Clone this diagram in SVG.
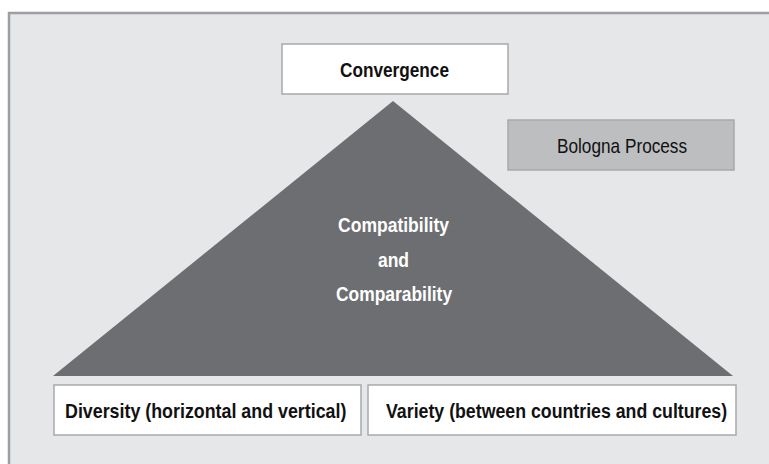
<svg xmlns="http://www.w3.org/2000/svg" width="769" height="464" viewBox="0 0 769 464">
<style>
.box{fill:#ffffff;stroke:#a7a9ac;stroke-width:1.5}
.grey{fill:#bcbec0;stroke:#a7a9ac;stroke-width:1.5}
.t{font-family:"Liberation Sans",Arial,sans-serif;font-size:21px;fill:#111111}
.b{font-weight:bold}
.w{fill:#ffffff;font-weight:bold;text-anchor:middle}
</style>
<rect x="0" y="0" width="769" height="464" fill="#ffffff"/>
<rect x="9" y="13" width="780" height="470" fill="#e6e7e8" stroke="#9d9fa2" stroke-width="2.5"/>
<g id="connectors"></g>
<g id="triangle">
<polygon points="393,101 53,376 733,376" fill="#6d6e71"/>
<text class="t w" transform="translate(393.5,232) scale(0.835,1)">Compatibility</text>
<text class="t w" transform="translate(393.5,267) scale(0.835,1)">and</text>
<text class="t w" transform="translate(394,301) scale(0.83,1)">Comparability</text>
</g>
<g id="convergence">
<rect class="box" x="282" y="44" width="226" height="50"/>
<text class="t b" transform="translate(340,77) scale(0.82,1)">Convergence</text>
</g>
<g id="bologna">
<rect class="grey" x="508" y="120" width="226" height="50"/>
<text class="t" transform="translate(557,153) scale(0.82,1)">Bologna Process</text>
</g>
<g id="diversity">
<rect class="box" x="54" y="385" width="307" height="50"/>
<text class="t b" transform="translate(65,418) scale(0.85,1)">Diversity (horizontal and vertical)</text>
</g>
<g id="variety">
<rect class="box" x="368" y="385" width="368" height="50"/>
<text class="t b" transform="translate(386,418) scale(0.845,1)">Variety (between countries and cultures)</text>
</g>
</svg>
